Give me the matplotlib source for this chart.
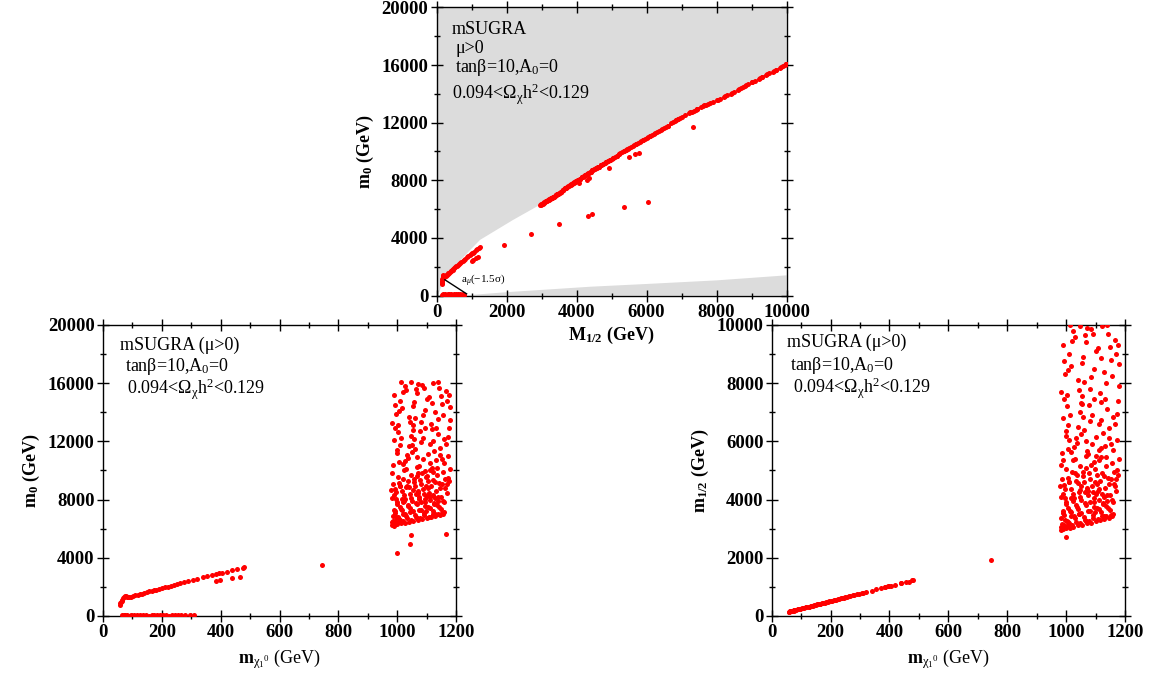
import matplotlib
matplotlib.use("Agg")
import matplotlib.pyplot as plt
from matplotlib.ticker import MultipleLocator

plt.rcParams['font.family'] = ['Liberation Serif', 'DejaVu Serif']
plt.rcParams['mathtext.fontset'] = 'custom'
plt.rcParams['mathtext.rm'] = 'Liberation Serif'
plt.rcParams['mathtext.it'] = 'Liberation Serif:italic'
plt.rcParams['mathtext.bf'] = 'Liberation Serif:bold'

# ---- data: (m_chi, M_1/2, m_0) in GeV ----
# bulk / low branch
low_chi = [57, 59, 61, 63, 65, 68, 71, 74, 77, 80, 84, 88, 95, 102, 110, 118, 125, 132, 140, 150,
           158, 165, 172, 180, 190, 200, 210, 220, 230, 240, 250, 262, 275, 290, 305, 320, 340, 355,
           370, 385, 395, 405, 420, 440, 455, 475, 480,
           385, 398, 440, 465]
low_mhalf = [145, 150, 155, 160, 165, 172, 180, 188, 196, 204, 214, 224, 242, 260, 280, 300, 318, 336,
             356, 380, 402, 420, 438, 460, 485, 510, 536, 562, 588, 614, 640, 670, 705, 745, 782, 822,
             872, 912, 950, 990, 1015, 1040, 1080, 1130, 1170, 1225, 1240,
             1000, 1030, 1140, 1180]
low_m0 = [780, 880, 960, 1040, 1120, 1220, 1320, 1400, 1380, 1330, 1290, 1300, 1330, 1360, 1410, 1450,
          1490, 1530, 1570, 1630, 1690, 1720, 1760, 1800, 1850, 1900, 1960, 2020, 2080, 2140, 2200,
          2260, 2330, 2400, 2480, 2560, 2660, 2730, 2800, 2880, 2930, 2970, 3040, 3140, 3210, 3330, 3400,
          2400, 2480, 2620, 2680]

# stau coannihilation strip (m_0 close to zero)
stau_chi = [66, 70, 75, 80, 88, 95, 105, 115, 125, 135, 145, 155, 165, 175, 185, 195, 205, 215, 225,
            235, 245, 255, 265, 280, 295, 310]
stau_mhalf = [170, 180, 192, 205, 225, 243, 268, 293, 320, 345, 370, 396, 422, 448, 474, 500, 525, 550,
              576, 602, 627, 652, 678, 715, 755, 792]
stau_m0 = [60, 40, 70, 50, 30, 80, 60, 40, 90, 50, 70, 30, 80, 60, 40, 90, 50, 70, 30, 80, 60, 40, 90,
           50, 70, 60]

# focus point region
hi_chi = [982, 990, 1000, 1012, 1025, 1040, 1055, 1070, 1085, 1100, 1115, 1130, 1145, 1155,
          985, 995, 1005, 1018, 1030, 1045, 1060, 1075, 1090, 1105, 1120, 1135, 1150, 1160,
          988, 998, 1008, 1022, 1035, 1050, 1065, 1080, 1095, 1110, 1125, 1140, 1158,
          992, 1015, 1042, 1068, 1098, 1128, 1000,
          983, 996, 1010, 1024, 1038, 1052, 1066, 1080, 1094, 1108, 1122, 1136, 1150, 1163, 1172,
          987, 1001, 1015, 1029, 1043, 1057, 1071, 1085, 1099, 1113, 1127, 1141, 1155, 1168,
          993, 1019, 1048, 1074, 1104, 1132, 1060, 1090, 1117, 1178,
          985, 998, 1012, 1026, 1040, 1054, 1068, 1082, 1096, 1110, 1124, 1138, 1152, 1166, 1176,
          990, 1004, 1018, 1033, 1047, 1061, 1075, 1089, 1103, 1117, 1131, 1145, 1159, 1172,
          1008, 1036, 1078, 1120, 994,
          983, 997, 1011, 1025, 1039, 1053, 1067, 1081, 1095, 1109, 1123, 1137, 1151, 1165, 1178,
          988, 1002, 1016, 1030, 1044, 1058, 1072, 1086, 1100, 1114, 1128, 1142, 1156, 1170, 1180,
          1048, 1012, 1140, 1092, 1062,
          1000, 1045, 1047, 1165, 990, 1010, 1030, 1100, 1070, 1120, 1050, 1075, 1110, 1020, 745]
hi_mhalf = [2960, 2990, 3010, 3040, 3060, 3110, 3140, 3180, 3210, 3250, 3290, 3330, 3380, 3420,
            3150, 3300, 3220, 3450, 3350, 3520, 3400, 3600, 3480, 3700, 3560, 3780, 3650, 3900,
            3600, 3850, 3700, 3950, 3800, 3980, 3880, 3930, 3760, 3990, 3870, 3950, 3500,
            3470, 3580, 3680, 3260, 3560, 3450, 3900,
            4100, 4350, 4600, 4200, 4850, 4450, 5100, 4700, 5300, 4300, 4900, 5450, 4150, 4550, 5000,
            4700, 5050, 4050, 5400, 4250, 4800, 4400, 5200, 4600, 5350, 4100, 4750, 5250, 4300,
            4500, 4950, 5150, 4150, 4850, 4400, 4600, 4250, 5480, 5400,
            5600, 6200, 6900, 5800, 6500, 7300, 6000, 6700, 7450, 5700, 6300, 7100, 5900, 6600, 7400,
            6800, 7200, 5650, 6100, 7000, 6400, 5550, 6900, 6150, 7350, 5850, 6450, 6850, 6050,
            6550, 5950, 7250, 6750, 7450,
            7700, 8300, 9000, 9800, 8100, 8700, 9400, 7800, 8500, 9200, 9950, 8000, 8800, 9500, 7900,
            9300, 7600, 8600, 9600, 7750, 8900, 9900, 8200, 9100, 7650, 8400, 9700, 8250, 9000, 8650,
            9980, 9990, 9995, 9700, 8050,
            2700, 3492, 4342, 4456, 5353, 6050, 4924, 5496, 5668, 5782, 7328, 4294, 4370, 4065, 1937]
hi_m0 = [6270, 6300, 6320, 6370, 6400, 6480, 6530, 6610, 6660, 6730, 6790, 6850, 6920, 6980,
         6550, 6800, 6680, 7030, 6870, 7150, 6950, 7300, 7080, 7470, 7220, 7620, 7380, 7800,
         7300, 7720, 7470, 7880, 7650, 7920, 7750, 7850, 7590, 7940, 7740, 7880, 7120,
         7060, 7260, 7440, 6740, 7220, 7030, 7800,
         8120, 8520, 8900, 8300, 9270, 8680, 9650, 9050, 9950, 8450, 9350, 10150, 8200, 8830, 9500,
         9050, 9580, 8040, 10080, 8380, 9200, 8600, 9800, 8900, 10020, 8120, 9120, 9880, 8450,
         8750, 9420, 9720, 8200, 9270, 8600, 8900, 8380, 10200, 10080,
         10350, 11220, 12240, 10650, 11650, 12770, 10950, 11950, 12950, 10500, 11360, 12520, 10800,
         11800, 12900,
         12100, 12650, 10420, 11080, 12380, 11500, 10300, 12240, 11150, 12830, 10720, 11570, 12170,
         11020,
         11720, 10870, 12710, 12020, 12950,
         13250, 13900, 14800, 15820, 13660, 14420, 15300, 13350, 14150, 15050, 16030, 13550, 14550,
         15430, 13450,
         15180, 13150, 14280, 15550, 13300, 14680, 15950, 13780, 14920, 13200, 14000, 15680, 13840,
         14800, 14350,
         16080, 16090, 16095, 15680, 13600,
         4300, 4971, 5549, 5641, 6173, 6497, 8855, 9595, 9826, 9919, 11722, 8023, 8185, 7838, 3538]

# more focus point points (densest part near the lower edge)
fp_chi = [981, 986, 994, 1003, 1009, 1021, 1033, 1048, 1063, 1078, 1092, 1107, 1122, 1137, 1152,
          984, 991, 1002, 1014, 1027, 1038, 1052, 1066, 1081, 1096, 1111, 1126, 1143, 1157,
          980, 989, 1006, 1017, 1032, 1046, 1058, 1072, 1088, 1102, 1115, 1130, 1146, 1161, 1170, 1176,
          995, 1011, 1026, 1041, 1063, 1079, 1093, 1106, 1121, 1139, 1151,
          981, 1007, 1023, 1049, 1067, 1087, 1112, 1135, 1160, 1174, 1000, 1056, 1097, 1147,
          992, 1020, 1055, 1083, 1118, 1148, 1175, 1006, 1064, 1132]
fp_mhalf = [3050, 2980, 3120, 3080, 3180, 3120, 3240, 3180, 3300, 3250, 3380, 3320, 3420, 3420, 3480,
            3350, 3550, 3280, 3620, 3420, 3740, 3550, 3820, 3600, 3920, 3680, 3850, 3720, 3980,
            4450, 4200, 4750, 4380, 4650, 4100, 4950, 4320, 4480, 4180, 4650, 4800, 4550, 4950, 4700, 4850,
            4050, 4620, 4050, 4580, 4260, 4900, 4050, 4520, 4200, 4150, 4700,
            5200, 5750, 5350, 6250, 5500, 5900, 6600, 5150, 5700, 6950, 6350, 6850, 5050, 6100,
            8750, 9450, 7550, 9850, 8850, 9250, 9300, 8450, 9650, 7450]
fp_m0 = [6430, 6320, 6540, 6480, 6610, 6540, 6710, 6610, 6800, 6730, 6920, 6830, 6980, 6980, 7080,
         6870, 7200, 6770, 7330, 6980, 7530, 7200, 7670, 7300, 7820, 7440, 7700, 7510, 7930,
         8680, 8300, 9120, 8560, 8950, 8120, 9420, 8480, 8730, 8250, 8950, 9200, 8830, 9420, 9050, 9270,
         8040, 8910, 8040, 8860, 8400, 9350, 8040, 8790, 8300, 8200, 9050,
         9800, 10580, 10020, 11290, 10230, 10800, 11800, 9720, 10500, 12300, 11430, 12170, 9580, 11080,
         14480, 15370, 13100, 15880, 14620, 15120, 15180, 14080, 15620, 12950]

# excluded (grey) regions in the M_1/2 - m_0 plane
excl_top_mhalf = [0, 50, 194, 700, 1243, 2190, 2957, 4027, 5344, 6680, 8397, 10000, 10000, 0]
excl_top_m0 = [0, 0, 1080, 2500, 3860, 5250, 6300, 8000, 10000, 12000, 14000, 16100, 20000, 20000]
excl_bot_mhalf = [800, 2000, 4400, 6000, 8000, 10000, 10000]
excl_bot_m0 = [0, 230, 610, 800, 1050, 1400, 0]

all_chi = low_chi + stau_chi + hi_chi + fp_chi
all_mhalf = low_mhalf + stau_mhalf + hi_mhalf + fp_mhalf
all_m0 = low_m0 + stau_m0 + hi_m0 + fp_m0

RED = '#ff0000'
GREY = '#dcdcdc'
DOT = 13
RELIC = r'0.094<Ω$_{\mathrm{χ}}$h$^2$<0.129'


def style_axes(ax, xmaj, xmin, ymaj, ymin):
    ax.xaxis.set_major_locator(MultipleLocator(xmaj))
    ax.xaxis.set_minor_locator(MultipleLocator(xmin))
    ax.yaxis.set_major_locator(MultipleLocator(ymaj))
    ax.yaxis.set_minor_locator(MultipleLocator(ymin))
    ax.tick_params(which='both', direction='inout', top=True, right=True, width=1)
    ax.tick_params(which='major', length=8, labelsize=13.5, pad=2)
    ax.tick_params(which='minor', length=5)
    for lab in ax.get_xticklabels() + ax.get_yticklabels():
        lab.set_fontweight('bold')
    for sp in ax.spines.values():
        sp.set_linewidth(1)


def info_text(ax, lines):
    for x, y, s in lines:
        ax.text(x, y, s, transform=ax.transAxes, fontsize=13, va='center', ha='left')


fig = plt.figure(figsize=(11.64, 6.79), dpi=100)

# top: m_0 vs M_1/2
ax1 = fig.add_axes([0.375, 0.5648, 0.3007, 0.4242])
ax1.fill(excl_top_mhalf, excl_top_m0, color=GREY, lw=0, zorder=0)
ax1.fill(excl_bot_mhalf, excl_bot_m0, color=GREY, lw=0, zorder=0)
ax1.scatter(all_mhalf, all_m0, s=DOT, c=RED, linewidths=0, zorder=3)
ax1.plot([240, 860], [1090, 115], color='black', lw=1, zorder=4)
ax1.text(700, 1080, r'a$_\mu$(−1.5σ)', fontsize=8, va='center', ha='left')
ax1.set_xlim(0, 10000)
ax1.set_ylim(0, 20000)
style_axes(ax1, 2000, 1000, 4000, 2000)
ax1.set_xlabel(r'$\mathbf{M_{1/2}}$ (GeV)', fontsize=13, fontweight='bold', labelpad=3)
ax1.set_ylabel(r'$\mathbf{m_0}$ (GeV)', fontsize=13, fontweight='bold')
info_text(ax1, [(0.044, 0.925, 'mSUGRA'),
                (0.053, 0.857, 'μ>0'),
                (0.053, 0.79, r'tanβ=10,A$_0$=0'),
                (0.044, 0.70, RELIC)])

# bottom left: m_0 vs m_chi
ax2 = fig.add_axes([0.0885, 0.0928, 0.3033, 0.4286])
ax2.scatter(all_chi, all_m0, s=DOT, c=RED, linewidths=0, zorder=3)
ax2.set_xlim(0, 1200)
ax2.set_ylim(0, 20000)
style_axes(ax2, 200, 100, 4000, 2000)
ax2.set_xlabel(r'$\mathbf{m}_{\mathrm{χ}_1{}^0}$ (GeV)', fontsize=13)
ax2.set_ylabel(r'$\mathbf{m_0}$ (GeV)', fontsize=13, fontweight='bold')
info_text(ax2, [(0.048, 0.931, 'mSUGRA (μ>0)'),
                (0.062, 0.856, r'tanβ=10,A$_0$=0'),
                (0.068, 0.78, RELIC)])

# bottom right: M_1/2 vs m_chi
ax3 = fig.add_axes([0.663, 0.0928, 0.3035, 0.4286])
ax3.scatter(all_chi, all_mhalf, s=DOT, c=RED, linewidths=0, zorder=3)
ax3.set_xlim(0, 1200)
ax3.set_ylim(0, 10000)
style_axes(ax3, 200, 100, 2000, 1000)
ax3.set_xlabel(r'$\mathbf{m}_{\mathrm{χ}_1{}^0}$ (GeV)', fontsize=13)
ax3.set_ylabel(r'$\mathbf{m_{1/2}}$ (GeV)', fontsize=13, fontweight='bold')
info_text(ax3, [(0.043, 0.94, 'mSUGRA (μ>0)'),
                (0.052, 0.862, r'tanβ=10,A$_0$=0'),
                (0.06, 0.783, RELIC)])

fig.savefig('out.png', dpi=100)
